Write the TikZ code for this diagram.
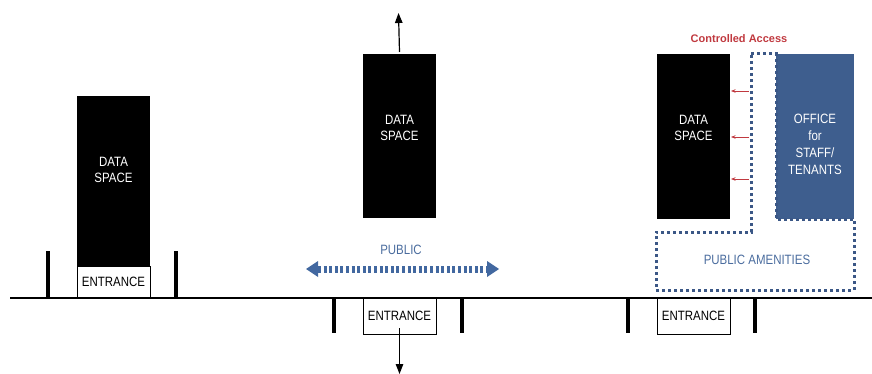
\documentclass[tikz,border=0pt]{standalone}
\usepackage{fontspec}
\setmainfont{Liberation Sans}
\newfontfamily\narrowfont{Liberation Sans}[FakeStretch=0.85]
\usetikzlibrary{arrows.meta}
\definecolor{officeblue}{HTML}{3E5E8E}
\definecolor{dotblue}{HTML}{3B5786}
\definecolor{pubblue}{HTML}{4A6C9E}
\definecolor{accred}{HTML}{C0393F}
\definecolor{arrowblue}{HTML}{4268A0}
\begin{document}
\begin{tikzpicture}[x=1pt,y=-1pt,
  databox/.style={fill=black, draw=none, inner sep=0pt, outer sep=0pt, anchor=north west},
  officebox/.style={fill=officeblue, draw=none, inner sep=0pt, outer sep=0pt, anchor=north west},
  entrancebox/.style={draw=black, fill=white, line width=0.9pt, inner sep=0pt, outer sep=0pt,
    anchor=north west, font=\narrowfont\fontsize{13.5}{14}\selectfont},
  boxtext/.style={text=white, align=center, inner sep=0pt,
    font=\narrowfont\fontsize{13.5}{16.8}\selectfont},
  post/.style={line width=4pt},
  ground/.style={line width=1.8pt},
  flowarrow/.style={line width=1.2pt, -{Triangle[length=10pt,width=7.5pt]}},
  accessarrow/.style={draw=accred, line width=0.7pt, -{Stealth[length=4.5pt,width=3.5pt]}},
  dottedzone/.style={draw=dotblue, line width=3pt, dash pattern=on 3pt off 3pt}
]
\useasboundingbox (0,0) rectangle (872,374);

% ground line
\coordinate (gl) at (10,298);
\coordinate (gr) at (872,298);
\draw[ground] (gl) -- (gr);

% ---------- left panel ----------
\node[databox, minimum width=73pt, minimum height=202pt] (d1) at (77,96) {};
\node[boxtext] (d1t) at (113.5,170) {DATA\\SPACE};
\node[entrancebox, minimum width=73pt, minimum height=31pt] (e1) at (77,266.5) {ENTRANCE};
\coordinate (p1a) at (48,251); \coordinate (p1b) at (48,298);
\coordinate (p2a) at (176,251); \coordinate (p2b) at (176,298);
\draw[post] (p1a) -- (p1b);
\draw[post] (p2a) -- (p2b);

% ---------- middle panel ----------
\node[databox, minimum width=73pt, minimum height=164pt] (d2) at (363,54) {};
\node[boxtext] (d2t) at (399.5,128) {DATA\\SPACE};
\coordinate (up) at (398.5,13);
\draw[flowarrow] ([yshift=2pt]d2.north) -- (up);
\node[text=pubblue, font=\narrowfont\fontsize{13.5}{14}\selectfont] (pub) at (401,250) {PUBLIC};
\coordinate (pl) at (306,269);
\coordinate (pr) at (499,269);
\draw[arrowblue, line width=7pt, dash pattern=on 3pt off 2.6pt] ([xshift=12pt]pl) -- ([xshift=-12pt]pr);
\fill[arrowblue] (pl) -- ([xshift=12pt,yshift=-8pt]pl) -- ([xshift=12pt,yshift=8pt]pl) -- cycle;
\fill[arrowblue] (pr) -- ([xshift=-12pt,yshift=-8pt]pr) -- ([xshift=-12pt,yshift=8pt]pr) -- cycle;
\node[entrancebox, minimum width=73pt, minimum height=36pt] (e2) at (363,298) {ENTRANCE};
\coordinate (down) at (399.5,374);
\draw[flowarrow] ([yshift=6pt]e2.south) -- (down);
\coordinate (p3a) at (334,298); \coordinate (p3b) at (334,333);
\coordinate (p4a) at (462,298); \coordinate (p4b) at (462,333);
\draw[post] (p3a) -- (p3b);
\draw[post] (p4a) -- (p4b);

% ---------- right panel ----------
\node[text=accred, font=\bfseries\fontsize{11}{12}\selectfont] (ca) at (739,39) {Controlled Access};
\node[databox, minimum width=73pt, minimum height=165pt] (d3) at (657,54) {};
\node[boxtext] (d3t) at (693.5,128) {DATA\\SPACE};
\node[officebox, minimum width=78pt, minimum height=165pt] (off) at (776,54) {};
\node[boxtext] (offt) at (815,144.5) {OFFICE\\for\\STAFF/\\TENANTS};
\draw[dottedzone] (751,54) -- (776,54) -- (776,219) -- (854,219) -- (854,290)
  -- (656,290) -- (656,232) -- (751,232) -- cycle;
\node[text=pubblue, font=\narrowfont\fontsize{13.5}{14}\selectfont] (amen) at (757,260) {PUBLIC AMENITIES};
\foreach \yy/\nm in {91/a, 137/b, 179/c}{
  \coordinate (r\nm s) at (749,\yy);
  \coordinate (r\nm e) at (731,\yy);
  \draw[accessarrow] (r\nm s) -- (r\nm e);
}
\node[entrancebox, minimum width=73pt, minimum height=36pt] (e3) at (657,298) {ENTRANCE};
\coordinate (p5a) at (628,298); \coordinate (p5b) at (628,333);
\coordinate (p6a) at (755,298); \coordinate (p6b) at (755,333);
\draw[post] (p5a) -- (p5b);
\draw[post] (p6a) -- (p6b);
\end{tikzpicture}
\end{document}
